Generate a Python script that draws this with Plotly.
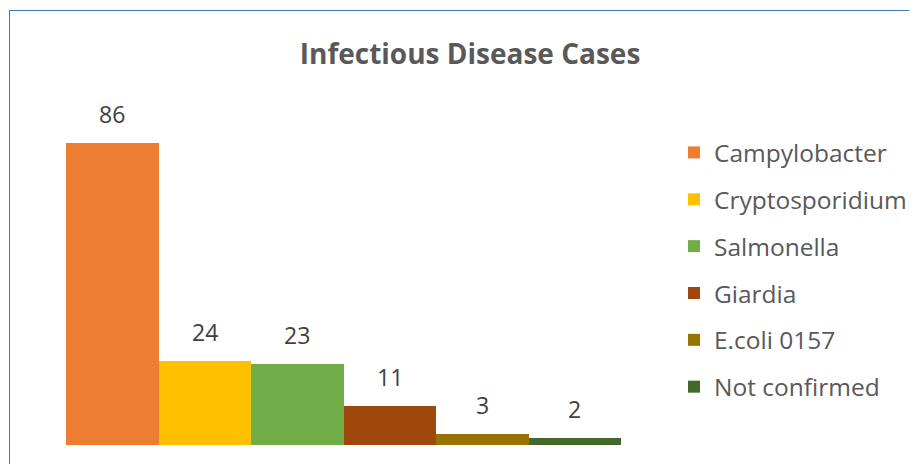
import plotly.graph_objects as go

categories = ["Campylobacter", "Cryptosporidium", "Salmonella", "Giardia", "E.coli 0157", "Not confirmed"]
cases = [86, 24, 23, 11, 3, 2]
colors = ["#ED7D31", "#FFC000", "#70AD47", "#9E480E", "#997300", "#43682B"]
title_text = "Infectious Disease Cases"

FONT = "Open Sans"
OFF = 8  # page body margin offset
fig = go.Figure()
for i, (cat, val, col) in enumerate(zip(categories, cases, colors)):
    fig.add_trace(go.Bar(
        x=[cat], y=[val], name=cat, marker=dict(color=col, line=dict(width=0)),
        legendgroup=cat, hoverinfo="x+y",
    ))
    fig.add_annotation(x=cat, y=val, text=str(val), showarrow=False,
                       yanchor="bottom", yshift=11,
                       font=dict(family=FONT, size=23, color="#404040"))

W, H = 940, 464 - OFF
ml, mt, mb = 66 - OFF, 94 - OFF, 19
mr = W - (621 - OFF)
pw = W - ml - mr
ph = H - mt - mb

def px_x(p):
    return (p - OFF - ml) / pw

def px_y(p):
    return (H - mb - (p - OFF)) / ph

fig.add_shape(type="line", xref="paper", yref="paper",
              x0=px_x(9.5), x1=px_x(9.5), y0=px_y(480), y1=px_y(10.5),
              line=dict(color="#4472C4", width=1))
fig.add_shape(type="line", xref="paper", yref="paper",
              x0=px_x(9.5), x1=px_x(960), y0=px_y(10.5), y1=px_y(10.5),
              line=dict(color="#4472C4", width=1))

fig.update_layout(
    width=W, height=H,
    margin=dict(l=ml, r=mr, t=mt, b=mb, pad=0),
    paper_bgcolor="white", plot_bgcolor="white",
    barmode="overlay", bargap=0,
    title=dict(text="<b>" + title_text + "</b>", x=(470 - OFF) / W, xanchor="center",
               y=1 - 46 / H, yanchor="middle", yref="container",
               font=dict(family=FONT, size=28, color="#595959")),
    xaxis=dict(type="category", categoryorder="array", categoryarray=categories,
               range=[-0.5, 5.5], showticklabels=False, showgrid=False,
               zeroline=False, showline=False, ticks=""),
    yaxis=dict(range=[0, 100], visible=False),
    showlegend=True,
    legend=dict(x=px_x(674), xanchor="left", y=px_y(130), yanchor="top",
                font=dict(family=FONT, size=24.5, color="#595959"),
                tracegroupgap=12, itemclick=False, bgcolor="rgba(0,0,0,0)"),
    font=dict(family=FONT),
)

fig.write_html("out.html")
